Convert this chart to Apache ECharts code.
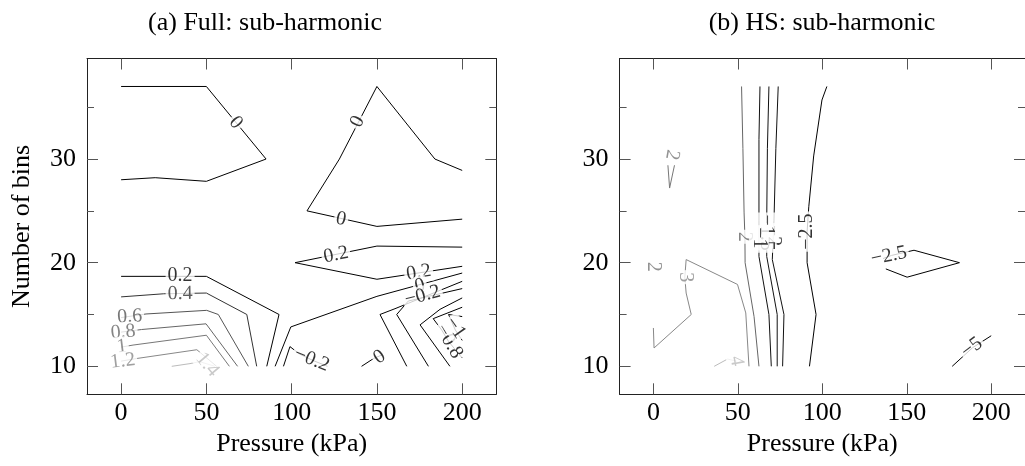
<!DOCTYPE html>
<html><head><meta charset="utf-8">
<script src="https://cdn.jsdelivr.net/npm/echarts@6.0.0/dist/echarts.min.js"></script>
<style>html,body{margin:0;padding:0;background:#fff}#c{width:1025px;height:466px}</style>
</head><body><div id="c"></div>
<script>
// ================= DATA =================
const titles = ['(a) Full: sub-harmonic', '(b) HS: sub-harmonic'];
const xName = 'Pressure (kPa)';
const yName = 'Number of bins';
const xRange = [-20, 220];
const yRange = [7.3, 39.7];
const xTicks = [0, 50, 100, 150, 200];
const yTicks = [10, 20, 30];
const yMinorTicks = [15, 25, 35];

// (a) Full: contour lines [pressure, bins]
const full_c0_top   = [[0,37.0],[50,37.0],[85,30.0],[50,27.85],[20,28.2],[0,28.0]];
const full_c0_right = [[200,28.9],[184,30.0],[150,37.0],[128,30.0],[109,25.0],[150,23.5],[200,24.2]];
const full_c02_right= [[200,21.5],[150,21.6],[102,20.0],[150,18.4],[200,19.65]];
const full_c02_left = [[0,18.68],[50,18.68],[92.6,15.0],[85.4,10]];
const full_c04      = [[0,16.7],[25,17.0],[50,17.07],[73.7,15.0],[79.5,10]];
const full_c06      = [[0,14.7],[14.6,15.05],[50.2,15.4],[57,15.0],[74.6,10]];
const full_c08      = [[0,13.3],[12,13.55],[49.8,14.1],[68.3,10]];
const full_c1       = [[0,11.85],[7,12.05],[50,13.0],[63.5,10]];
const full_c12      = [[0,10.5],[9,10.75],[44.4,11.6],[56,10]];
const full_c14      = [[29.7,10],[40.4,10.26],[46,10.45],[55,10]];
const full_c0_low   = [[90.3,10],[99.5,13.8],[150,16.75],[200,19.0]];
const full_cm02_low = [[167.5,10],[151.8,15.0],[160.6,15.56],[200,18.2]];
const full_cm04     = [[180.2,10],[161.6,15.0],[168.4,16.3],[200,17.5]];
const full_cm06     = [[192.8,10],[175.3,14.0],[187,15.5],[200,16.6]];
const full_cm08     = [[200,15.7],[183,14.6],[188,13.5],[192,12.4],[200,10.8]];
const full_cm1      = [[200,14.8],[192,15.0],[196,13.5],[200,12.5]];
const full_cm02_mid = [[95.2,10],[99,11.9],[104.5,11.2],[112,10.6],[121,10]];
const full_c0_small = [[141,10],[148,10.75],[153,11.1]];

// (a) contour labels [pressure, bins, text]
const full_labels = [
  [67.2,33.5,'0'],[138.7,33.6,'0'],[129,24.2,'0'],
  [126,20.75,'0.2'],[174.5,19.05,'0.2'],[34.6,18.72,'0.2'],
  [34.6,17.0,'0.4'],[5,14.8,'0.6'],[1.2,13.3,'0.8'],[0.4,11.9,'1'],[1,10.5,'1.2'],[50.6,10.15,'1.4'],
  [175.3,17.75,'0'],[176.8,16.8,'\u22120.2'],[192.3,12.4,'\u22120.8'],[196,13.7,'\u22121'],
  [111.8,10.64,'\u22120.2'],[151.5,10.9,'0']
];

// (b) HS: contour lines
const hs_c2   = [[52.2,37.0],[53.0,31.0],[53.7,24.8],[54.2,22.5],[54.3,20.0],[59.6,14.8],[62.5,10]];
const hs_m1   = [[63.1,37],[62.5,31.9],[62.5,24.1],[62.5,20.6],[68.4,15.0],[69.8,10]];
const hs_m2   = [[68.4,37],[67.5,31],[67.1,24.1],[67.1,20.6],[73.3,15.0],[73.3,10]];
const hs_m3   = [[73.9,37],[72.5,31],[71.4,24.1],[70.4,20.3],[77.3,15],[76.5,10]];
const hs_c25  = [[102.7,37],[99.8,35.7],[94.9,30.3],[92,25.4],[91,23],[91,20.0],[96.3,15.0],[92.4,10]];
const hs_c3   = [[0,13.7],[0.4,11.77],[22.4,15.0],[19.4,17.07],[18.6,18.6],[19.4,20.3],[49.8,17.9],[54.7,15.15],[56.6,10]];
const hs_c4   = [[36,10],[43.9,10.7],[49.2,10.5]];
const hs_c2v  = [[8.6,29.4],[9.6,27.2],[12.5,29.4]];
const hs_c25d = [[136,20.4],[141,20.7],[154.3,21.2],[181.2,20.0],[150.2,18.6],[137.6,19.4]];
const hs_c5   = [[176.9,10],[189,11.8],[200,12.95]];

// (b) contour labels
const hs_labels = [
  [53.8,22.5,'2'],[71.2,22.6,'\u22122'],[67.1,22.9,'\u22121.5'],[62.5,22.4,'\u22121'],
  [91,23.0,'\u22122.5'],[18.6,18.6,'3'],[49.2,10.5,'4'],[11,30.4,'2'],[0,19.6,'2'],
  [139.5,20.65,'\u22122.5'],[188.5,11.8,'\u22125']
];

// ================= STYLE =================
const FONT = 'Liberation Serif';
const full_lines = [
  [full_c0_top,'#000'],[full_c0_right,'#000'],[full_c02_right,'#000'],[full_c02_left,'#000'],
  [full_c04,'#333'],[full_c06,'#555'],[full_c08,'#666'],[full_c1,'#777'],[full_c12,'#888'],[full_c14,'#bbb'],
  [full_c0_low,'#000'],[full_cm02_low,'#000'],[full_cm04,'#000'],[full_cm06,'#000'],[full_cm08,'#000'],
  [full_cm1,'#000'],[full_cm02_mid,'#000'],[full_c0_small,'#000']
];
const full_labelRot = [-50,63,-12, 11,9,0, 1,3,5,7,7,-50, 15,15,-60,-55, -22,35];
const full_labelCol = ['#000','#000','#000','#000','#000','#000','#333','#555','#666','#777','#888','#bbb',
  '#000','#000','#000','#000','#000','#000'];
const hs_lines = [
  [hs_c2,'#666'],[hs_m1,'#111'],[hs_m2,'#111'],[hs_m3,'#111'],[hs_c25,'#000'],[hs_c3,'#888'],
  [hs_c4,'#bbb'],[hs_c2v,'#777'],[hs_c25d,'#000'],[hs_c5,'#000']
];
const hs_labelRot = [-90,-90,-90,-90, 90,-90,-80,-100,-90, 12,37];
const hs_labelCol = ['#666','#111','#111','#111','#000','#888','#bbb','#777','#777','#000','#000'];

const grids = [
  {left: 87, top: 58.5, width: 409.3, height: 335.8},
  {left: 619.6, top: 58.5, width: 410, height: 335.8}
];
const titlePos = [260, 817];

const axisLineStyle = {color: '#222', width: 1};
const tickStyle = {color: '#555', width: 1};
const bigText = {fontFamily: FONT, fontSize: 26, color: '#000'};

const xAxes = [], yAxes = [], series = [];
grids.forEach((g, gi) => {
  ['bottom','top'].forEach(pos => {
    xAxes.push({
      gridIndex: gi, type: 'value', min: xRange[0], max: xRange[1], position: pos,
      axisLine: {show: true, onZero: false, lineStyle: axisLineStyle},
      axisTick: {show: true, inside: true, length: 11, customValues: xTicks, lineStyle: tickStyle},
      axisLabel: {show: pos === 'bottom', customValues: xTicks, margin: 6, ...bigText},
      splitLine: {show: false},
      name: pos === 'bottom' ? xName : '', nameLocation: 'middle', nameGap: 36,
      nameTextStyle: bigText
    });
  });
  ['left','right'].forEach(pos => {
    yAxes.push({
      gridIndex: gi, type: 'value', min: yRange[0], max: yRange[1], position: pos,
      axisLine: {show: !(gi === 1 && pos === 'right'), onZero: false, lineStyle: axisLineStyle},
      axisTick: {show: true, inside: true, length: 11, customValues: yTicks, lineStyle: tickStyle},
      axisLabel: {show: pos === 'left', customValues: yTicks, margin: 11, ...bigText},
      splitLine: {show: false},
      name: (pos === 'left' && gi === 0) ? yName : '', nameLocation: 'middle', nameGap: 52,
      nameTextStyle: bigText
    });
    yAxes.push({
      gridIndex: gi, type: 'value', min: yRange[0], max: yRange[1], position: pos,
      axisLine: {show: false, onZero: false},
      axisTick: {show: true, inside: true, length: 7, customValues: yMinorTicks, lineStyle: tickStyle},
      axisLabel: {show: false, customValues: yMinorTicks},
      splitLine: {show: false}
    });
  });
});

function addPlot(gi, lines, labels, rots, cols) {
  lines.forEach(([pts, color]) => {
    series.push({
      type: 'line', xAxisIndex: gi * 2, yAxisIndex: gi * 4, data: pts,
      symbol: 'none', showSymbol: false, silent: true, z: 2,
      lineStyle: {color: color, width: 1}
    });
  });
  series.push({
    type: 'scatter', xAxisIndex: gi * 2, yAxisIndex: gi * 4, symbolSize: 1, silent: true, z: 5,
    itemStyle: {color: 'rgba(0,0,0,0)'},
    label: {show: true, position: 'inside', fontFamily: FONT, fontSize: 20, lineHeight: 20,
            backgroundColor: '#fff', padding: [0, 2]},
    data: labels.map((l, i) => ({
      value: [l[0], l[1]],
      label: {formatter: l[2], rotate: rots[i], color: cols[i]}
    }))
  });
}
addPlot(0, full_lines, full_labels, full_labelRot, full_labelCol);
addPlot(1, hs_lines, hs_labels, hs_labelRot, hs_labelCol);

const chart = echarts.init(document.getElementById('c'));
chart.setOption({
  animation: false,
  backgroundColor: '#fff',
  title: titles.map((t, i) => ({
    text: t, left: titlePos[i], top: 5, textAlign: 'center',
    textStyle: {fontFamily: FONT, fontSize: 26, fontWeight: 'normal', color: '#000'}
  })),
  grid: grids,
  xAxis: xAxes,
  yAxis: yAxes,
  series: series
});
</script></body></html>
